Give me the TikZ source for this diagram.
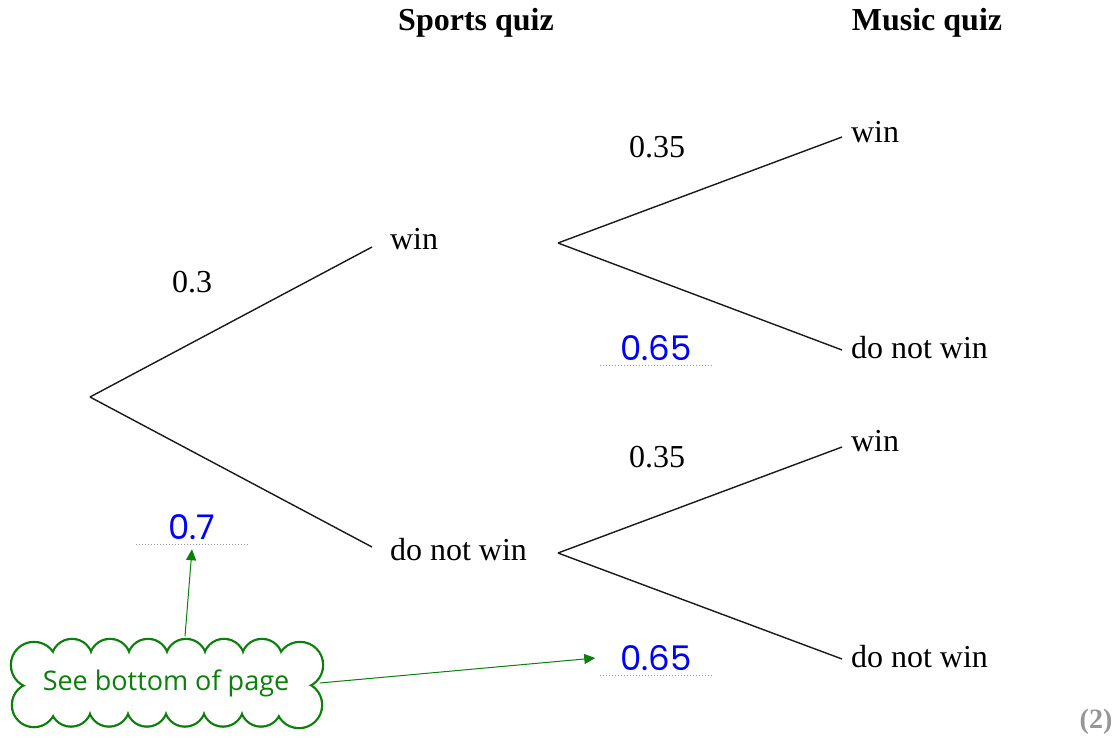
\documentclass[tikz,border=0pt]{standalone}
\usepackage{fontspec}
\setmainfont{Liberation Serif}
\newfontfamily\handfont{Poppins}
\newfontfamily\notefont{Open Sans}
\usetikzlibrary{arrows.meta}

\definecolor{penBlue}{RGB}{0,0,255}
\definecolor{noteGreen}{RGB}{10,128,10}
\definecolor{markGray}{RGB}{150,150,150}

\begin{document}
\begin{tikzpicture}[
		x=1pt, y=-1pt,
		line width=1.5pt,
		% estilo de las ramas y de las etiquetas
		branch/.style={draw=black!90, line width=1.4pt},
		leftLeaf/.style={anchor=west, inner sep=0pt, outer xsep=18pt, text height=7pt, text depth=2pt,
			font=\fontsize{32}{38}\selectfont},
		rightLeaf/.style={leftLeaf, outer xsep=9pt},
		% baja el texto dentro de la caja sin mover la rama
		drop/.style={execute at begin node={\lower#1\hbox\bgroup}, execute at end node={\egroup}},
		prob/.style={font=\fontsize{32}{38}\selectfont, inner sep=0pt},
		head/.style={font=\fontsize{32}{38}\selectfont\bfseries, inner sep=0pt},
		% respuesta manuscrita sobre linea de puntos
		answer/.style={font=\fontsize{34}{38}\handfont, text=penBlue, minimum width=110pt,
			inner xsep=0pt, inner ysep=4pt, text height=7pt, text depth=0pt,
			append after command={(\tikzlastnode.south west) edge[draw=markGray, line width=1pt, dotted] (\tikzlastnode.south east)}},
		% nube: circulos con borde grueso, luego rellenos en blanco encima
		puff/.style={draw=noteGreen, line width=4.5pt},
		puffFill/.style={fill=white},
		noteText/.style={text=noteGreen, font=\fontsize{27}{30}\notefont, inner sep=0pt,
			minimum width=306pt, minimum height=92pt},
		noteArrow/.style={draw=noteGreen, line width=1pt, -{Triangle[length=11pt, width=10pt]}}
	]

	\useasboundingbox (0,0) rectangle (1118,740);

	% --- 1. Cabeceras ---
	\node[head] (HS) at (476,23) {Sports quiz};
	\node[head] (HM) at (927,23) {Music quiz};

	% --- 2. Nodos del arbol ---
	\coordinate (S) at (90,397);
	\node[leftLeaf] (W) at (372,247) {win};
	\node[leftLeaf, drop=11pt] (L) at (372,547) {do not win};

	\coordinate (W0) at (558,243);
	\coordinate (L0) at (558,553);
	\node[rightLeaf, drop=3pt] (WW) at (842,137) {win};
	\node[rightLeaf, drop=6pt] (WL) at (842,350) {do not win};
	\node[rightLeaf, drop=2pt] (LW) at (842,447) {win};
	\node[rightLeaf, drop=6pt] (LL) at (842,659) {do not win};

	% --- 3. Ramas ---
	\draw[branch] (S) -- (W.west);
	\draw[branch] (S) -- (L.west);
	\draw[branch] (W0) -- (WW.west);
	\draw[branch] (W0) -- (WL.west);
	\draw[branch] (L0) -- (LW.west);
	\draw[branch] (L0) -- (LL.west);

	% --- 4. Probabilidades ---
	\node[prob] (P1) at (192,282) {0.3};
	\node[prob] (P2) at (657,147) {0.35};
	\node[prob] (P3) at (657,457) {0.35};

	\node[answer] (A1) at (192,536) {0.7};
	\node[answer] (A2) at (656,357) {0.65};
	\node[answer] (A3) at (656,667) {0.65};

	% --- 5. Nota ---
	\foreach \cx/\cy/\r in {72/659.5/19.5, 110/659.5/19.5, 148/659.5/19.5, 186/659.5/19.5, 224/659.5/19.5, 262/659.5/19.5,
			71/706/19.5, 109/706/19.5, 147/706/19.5, 185/706/19.5, 223/706/19.5, 261/706/19.5,
			34/665/22, 34/705/21, 300/665/22, 299/705/22}
		\draw[puff] (\cx,\cy) circle (\r);
	\foreach \cx/\cy/\r in {72/659.5/19.5, 110/659.5/19.5, 148/659.5/19.5, 186/659.5/19.5, 224/659.5/19.5, 262/659.5/19.5,
			71/706/19.5, 109/706/19.5, 147/706/19.5, 185/706/19.5, 223/706/19.5, 261/706/19.5,
			34/665/22, 34/705/21, 300/665/22, 299/705/22}
		\fill[puffFill] (\cx,\cy) circle (\r);
	\fill[puffFill] (34,662) rectangle (300,706);

	\node[noteText] (N) at (166,683) {See bottom of page};
	\draw[noteArrow] ([xshift=19pt]N.north) -- ([yshift=-5pt]A1.south);
	\draw[noteArrow] (N.east) -- ([xshift=-5pt, yshift=9pt]A3.west);

	\node[font=\fontsize{28}{30}\selectfont\bfseries, text=markGray, inner sep=0pt] (M) at (1096,722) {(2)};

\end{tikzpicture}
\end{document}
